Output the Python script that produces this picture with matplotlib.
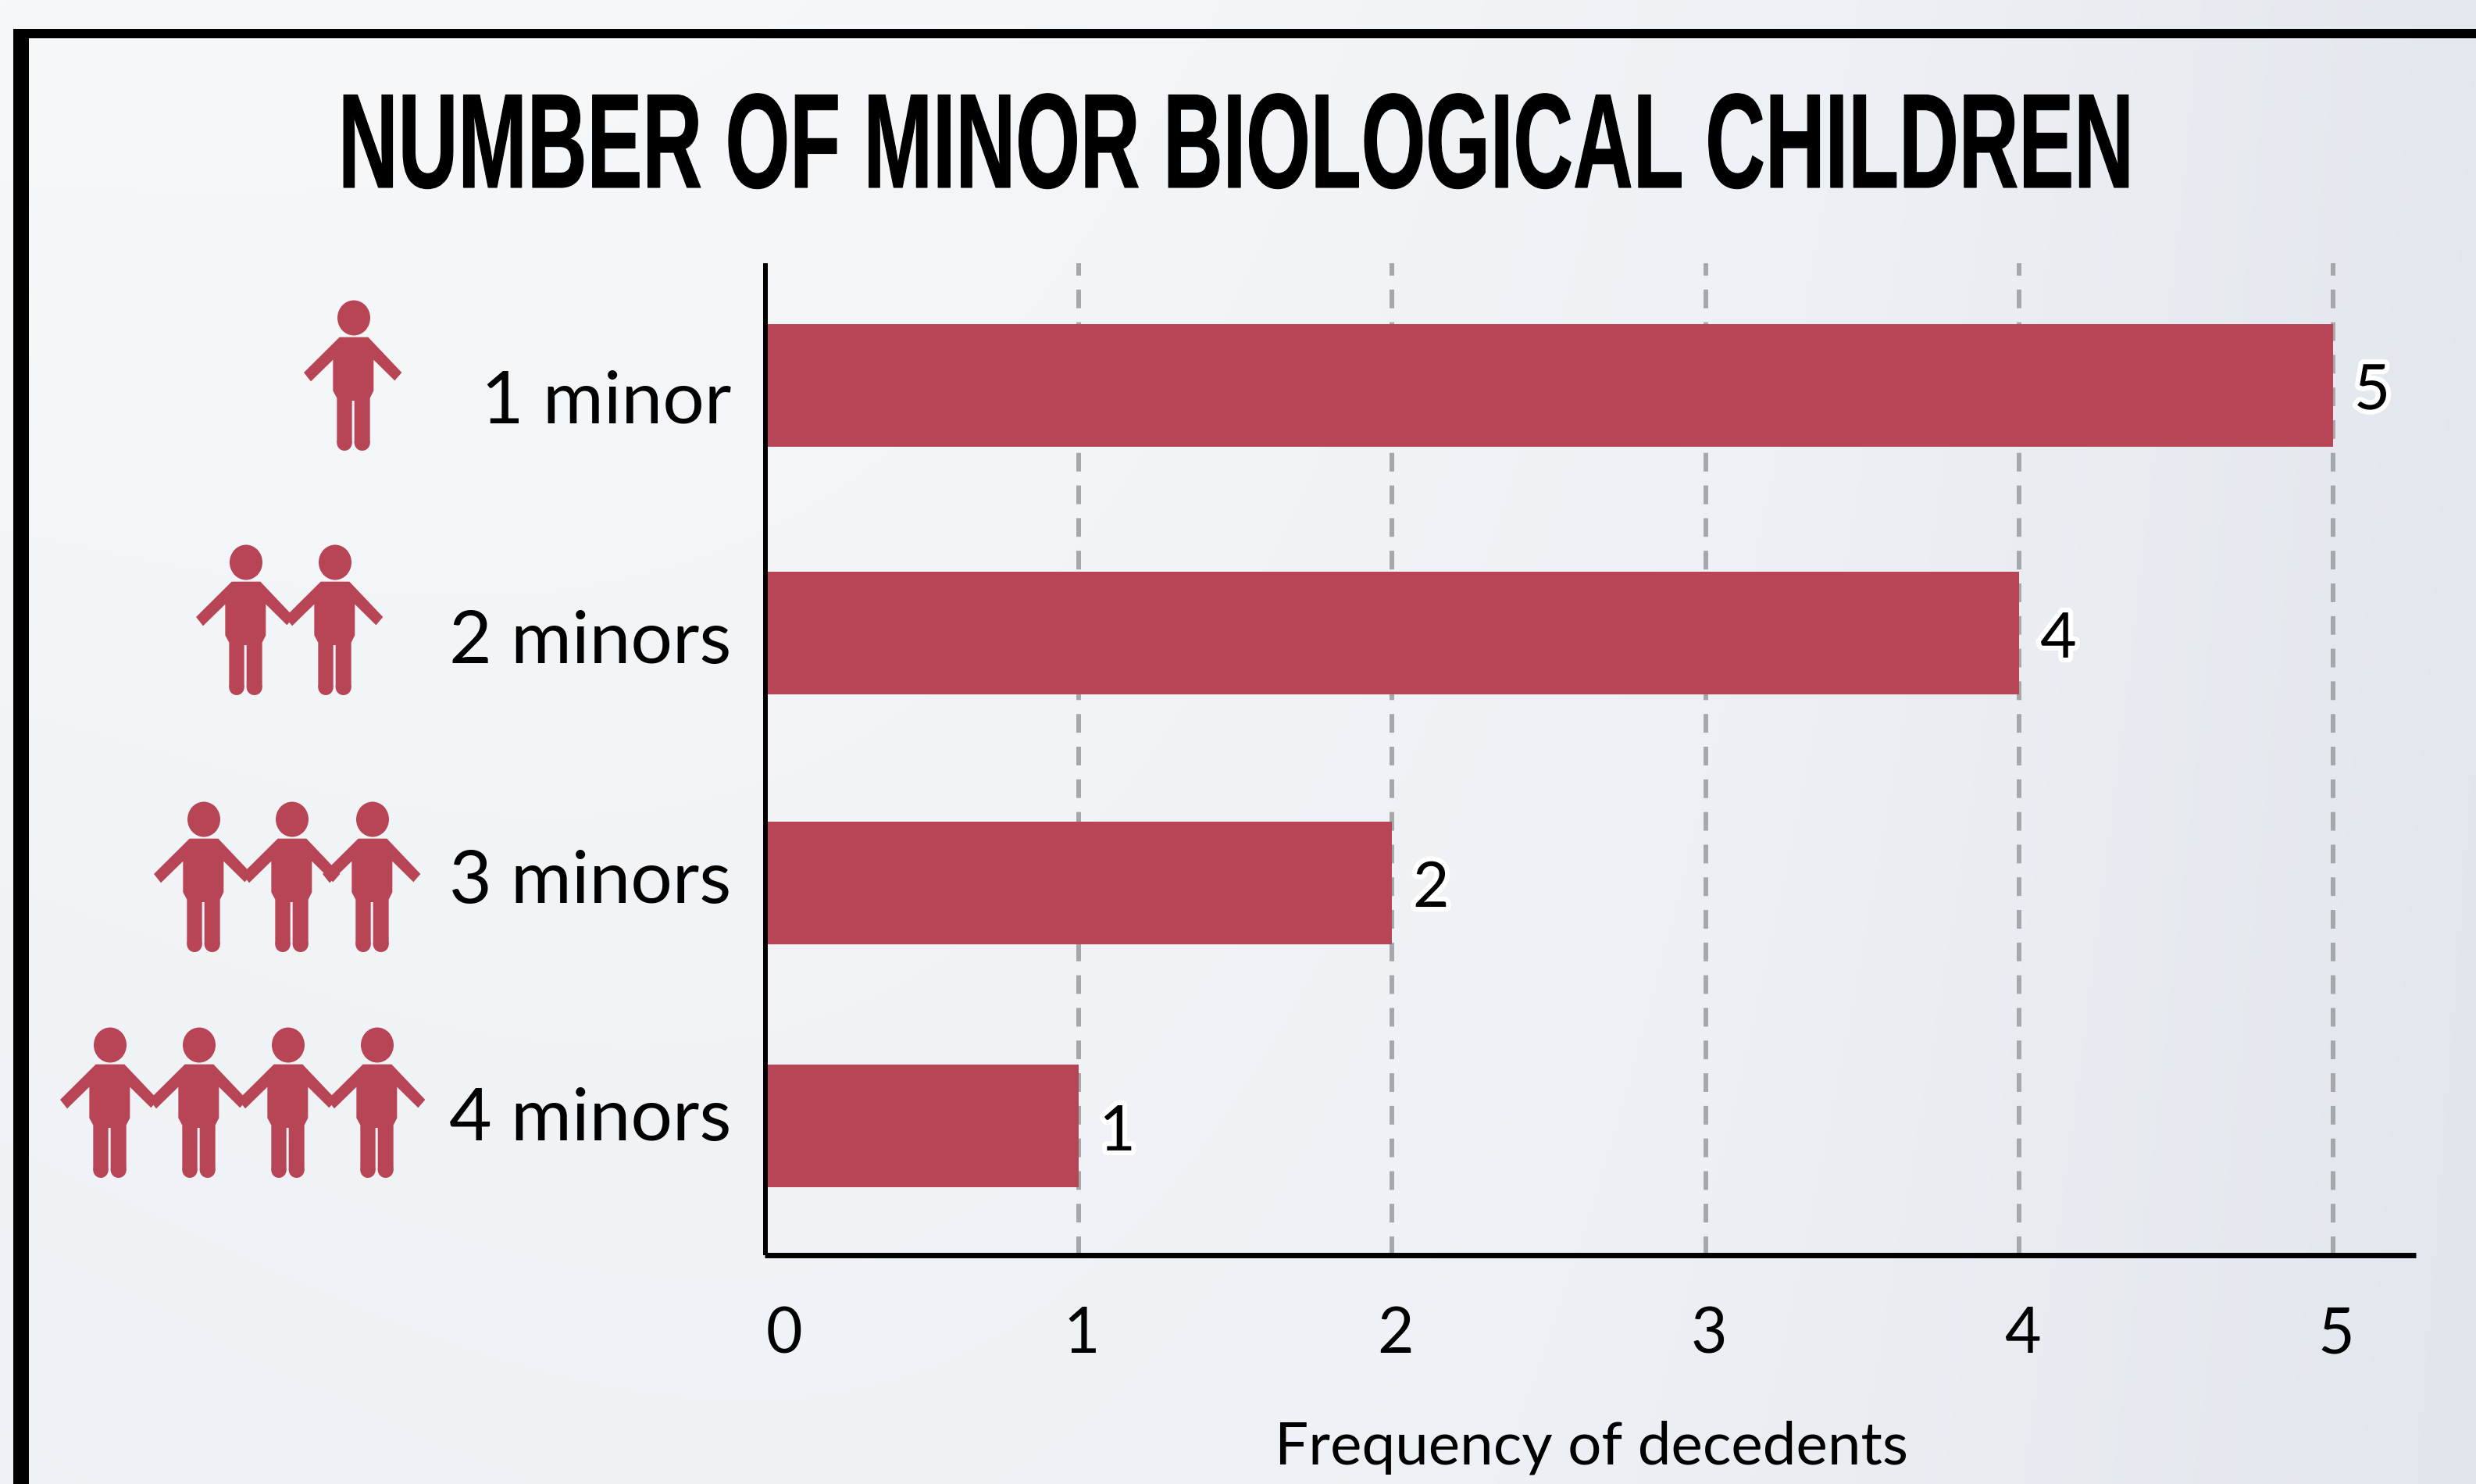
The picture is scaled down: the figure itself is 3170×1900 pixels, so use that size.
import numpy as np
import matplotlib
matplotlib.use("Agg")
import matplotlib.pyplot as plt
import matplotlib.patheffects as pe
from matplotlib.patches import Ellipse, PathPatch, Rectangle
from matplotlib.path import Path
from matplotlib.transforms import Affine2D, ScaledTranslation

# ---- data ----
CATEGORIES = ["1 minor", "2 minors", "3 minors", "4 minors"]
FREQUENCY = [5, 4, 2, 1]
X_TICKS = [0, 1, 2, 3, 4, 5]

TITLE = "NUMBER OF MINOR BIOLOGICAL CHILDREN"
X_LABEL = "Frequency of decedents"

# ---- layout (reference pixels) ----
W, H = 3170, 1900
DPI = 100
BAR_COLOR = "#b74555"
BAR_ROWS = [0, 1.005, 2.014, 3]
LABEL_BASELINE = [541, 849, 1156, 1460]
ICON_X = [[453], [315, 429], [261, 374, 477], [141, 255, 369, 483]]
ICON_Y = [407, 720, 1049, 1338]

plt.rcParams["font.family"] = ["Lato", "DejaVu Sans"]


class Stretch(pe.AbstractPathEffect):
    """Draw a text taller than the font, and a bit fatter, the title font is very condensed."""

    def __init__(self, sy, stroke=0):
        super().__init__()
        self.sy = sy
        self.stroke = stroke

    def draw_path(self, renderer, gc, tpath, affine, rgbFace=None):
        gc0 = renderer.new_gc()
        gc0.copy_properties(gc)
        gc0.set_linewidth(self.stroke)
        gc0.set_foreground(rgbFace)
        renderer.draw_path(gc0, tpath, Affine2D().scale(1, self.sy) + affine, rgbFace)
        gc0.restore()


def draw_person(ax, cx, top):
    """One small figure, cx = middle, top = centre of the head."""
    ax.add_patch(Ellipse((cx, top), 42, 45, color=BAR_COLOR, lw=0))
    # outline in zoom units, 3 units = 1 pixel
    pts = [(-55, 74), (55, 74), (184, 210), (157, 241), (76, 161), (76, 280),
           (62, 308), (62, 480), (2, 480), (2, 318), (-7, 318),
           (-7, 480), (-65, 480), (-65, 308), (-80, 280), (-80, 161),
           (-165, 244), (-192, 210)]
    verts = [(cx + x / 3, top + y / 3) for x, y in pts] + [(cx, top)]
    codes = [Path.MOVETO] + [Path.LINETO] * (len(pts) - 1) + [Path.CLOSEPOLY]
    ax.add_patch(PathPatch(Path(verts, codes), color=BAR_COLOR, lw=0))
    # rounded feet
    ax.add_patch(Ellipse((cx - 12, top + 160), 19.4, 20, color=BAR_COLOR, lw=0))
    ax.add_patch(Ellipse((cx + 10.7, top + 160), 20, 20, color=BAR_COLOR, lw=0))


fig = plt.figure(figsize=(W / DPI, H / DPI), dpi=DPI)

# ---- background, frame, pictures: drawn in pixels ----
bg = fig.add_axes([0, 0, 1, 1])
bg.axis("off")

yy, xx = np.mgrid[0:1:200j, 0:1:320j]
t = (0.9 + 0.1 * yy) * xx ** 2.6 + 0.4 * yy * (1 - xx)
light = np.array([246, 248, 250]) / 255
dark = np.array([225, 230, 237]) / 255
grad = light + (dark - light) * t[..., None]
bg.imshow(grad, extent=[0, W, H, 0], aspect="auto", interpolation="bilinear")
bg.set_xlim(0, W)
bg.set_ylim(H, 0)

bg.add_patch(Rectangle((17, 37), W, 12, color="black", lw=0))
bg.add_patch(Rectangle((17, 37), 20, H, color="black", lw=0))

title = bg.text(433, 240, TITLE, fontsize=74, family="Liberation Sans", fontweight="bold",
                color="black", ha="left", va="baseline")
# font size that gives the title its width in the reference, then stretch it up to 124pt tall
title_w = title.get_window_extent(fig.canvas.get_renderer()).width
title_size = 74 * 2298 / title_w
title.set_fontsize(title_size)
title.set_path_effects([Stretch(124 / title_size, stroke=0.8)])

for xs, top in zip(ICON_X, ICON_Y):
    for x in xs:
        draw_person(bg, x, top)

for name, base in zip(CATEGORIES, LABEL_BASELINE):
    bg.text(936, base, name, fontsize=68, color="black", ha="right", va="baseline")

# ---- the chart ----
x0, x5 = 979, 2987
y_top, y_bot = 337, 1607
ax = fig.add_axes([x0 / W, 1 - y_bot / H, (3093 - x0) / W, (y_bot - y_top) / H])
ax.patch.set_alpha(0)
px_per_unit = (x5 - x0) / 5
ax.set_xlim(0, (3093 - x0) / px_per_unit)
# row 0 sits at y=493 and rows are 316.3 px apart
row_px = 316.3
ax.set_ylim((y_bot - 493) / row_px, (y_top - 493) / row_px)

ax.set_axisbelow(True)
ax.set_xticks(X_TICKS)
ax.xaxis.grid(True, color="#a5a8ab", lw=4.3, linestyle=(0, (4, 3)))
ax.yaxis.grid(False)
ax.barh(BAR_ROWS, FREQUENCY, height=157 / row_px, color=BAR_COLOR, left=0, zorder=2)

for s in ["top", "right"]:
    ax.spines[s].set_visible(False)
ax.spines["left"].set_linewidth(4.3)
ax.spines["left"].set_position(("outward", -1))
ax.spines["bottom"].set_linewidth(5)
for s in ["left", "bottom"]:
    ax.spines[s].set_zorder(3)
    ax.spines[s].set_capstyle("butt")

ax.set_yticks([])
ax.tick_params(axis="x", length=0, pad=47, labelsize=58)
for lab, v in zip(ax.get_xticklabels(), X_TICKS):
    dx = 25 if v == 0 else 4
    lab.set_transform(lab.get_transform() + ScaledTranslation(dx / DPI, 0, fig.dpi_scale_trans))

for y, v in zip(BAR_ROWS, FREQUENCY):
    ax.annotate(str(v), (v, y), xytext=(50 * 72 / DPI, -8 * 72 / DPI), textcoords="offset points",
                fontsize=58, color="black", ha="center", va="center", zorder=4,
                path_effects=[pe.withStroke(linewidth=9, foreground="white")])

bg.text(2038, 1874, X_LABEL, fontsize=55, color="black", ha="center", va="baseline")

fig.savefig("out.png", dpi=DPI)
